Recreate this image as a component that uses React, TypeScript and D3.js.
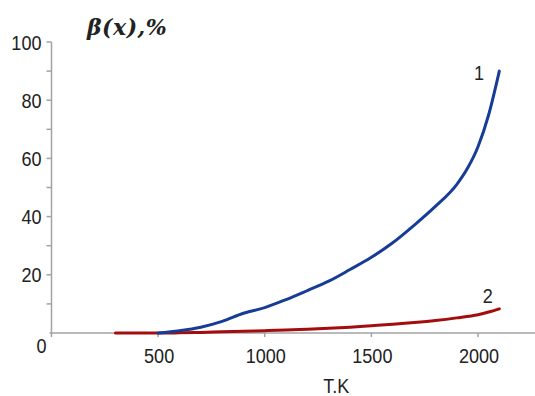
import React from 'react'
import * as d3 from 'd3'

// temperature grid, K
const temps1 = [500, 600, 700, 800, 900, 1000, 1100, 1200, 1300, 1400, 1500, 1600, 1700, 1800, 1900, 1950, 2000, 2050, 2100]
// curve 1, %
const beta1 = [0, 0.8, 2, 4, 6.8, 8.7, 11.5, 14.6, 17.8, 21.8, 26, 31, 37, 43.5, 51, 56.5, 64, 75, 90]

const temps2 = [300, 400, 500, 600, 700, 800, 900, 1000, 1100, 1200, 1300, 1400, 1500, 1600, 1700, 1800, 1900, 2000, 2050, 2100]
// curve 2, %
const beta2 = [0, 0, 0, 0.05, 0.2, 0.4, 0.6, 0.8, 1.0, 1.3, 1.6, 2.0, 2.5, 3.0, 3.6, 4.3, 5.2, 6.3, 7.2, 8.3]

const xTicks = [500, 1000, 1500, 2000]
const yTicks = [20, 40, 60, 80, 100]
const yMinor = [10, 20, 30, 40, 50, 60, 70, 80, 90, 100]

const W = 535
const H = 396

const labelFont = '"Liberation Sans", Arial, sans-serif'

// narrow-looking label (reference uses a condensed sans)
const Label = ({ x, y, anchor = 'middle', children }: { x: number; y: number; anchor?: string; children: React.ReactNode }) => (
  <text
    transform={`translate(${x},${y}) scale(0.86,1)`}
    textAnchor={anchor}
    fontFamily={labelFont}
    fontSize={21}
    fill="#222"
  >
    {children}
  </text>
)

const App = () => {
  const x = d3.scaleLinear().domain([0, 2000]).range([51.5, 478])
  const y = d3.scaleLinear().domain([0, 100]).range([333, 42])

  const line = d3
    .line<[number, number]>()
    .x((d) => x(d[0]))
    .y((d) => y(d[1]))
    .curve(d3.curveMonotoneX)

  const s1 = temps1.map((t, i) => [t, beta1[i]] as [number, number])
  const s2 = temps2.map((t, i) => [t, beta2[i]] as [number, number])

  const axisColor = '#a3a3a3'

  return (
    <svg width={W} height={H} style={{ position: 'absolute', left: 0, top: 0, background: '#fff' }}>
      {/* y axis */}
      <line x1={x(0)} x2={x(0)} y1={y(100)} y2={y(0) + 4} stroke={axisColor} strokeWidth={1.5} />
      {yMinor.map((t) => (
        <line key={t} x1={x(0) - 5} x2={x(0)} y1={y(t)} y2={y(t)} stroke={axisColor} strokeWidth={1.5} />
      ))}
      {yTicks.map((t) => (
        <Label key={t} x={x(0) - 10} y={y(t) + 7.5} anchor="end">
          {t}
        </Label>
      ))}
      <Label x={x(0) - 10} y={y(0) + 20}>
        0
      </Label>

      {/* x axis */}
      <line x1={x(0) - 2} x2={W} y1={y(0)} y2={y(0)} stroke={axisColor} strokeWidth={1.5} />
      {xTicks.map((t) => (
        <g key={t}>
          <line x1={x(t)} x2={x(t)} y1={y(0)} y2={y(0) + 4} stroke={axisColor} strokeWidth={1.5} />
          <Label x={x(t) + 1} y={y(0) + 30}>
            {t}
          </Label>
        </g>
      ))}
      <Label x={x(1335)} y={y(0) + 60}>
        T.K
      </Label>

      {/* title */}
      <text
        x={87}
        y={35}
        fontFamily='"DejaVu Serif", "Liberation Serif", serif'
        fontStyle="italic"
        fontWeight="bold"
        fontSize={22}
        letterSpacing={0.5}
        fill="#222"
      >
        β(x),%
      </text>

      {/* curves */}
      <path d={line(s2) || ''} fill="none" stroke="#a30d0d" strokeWidth={3} strokeLinecap="round" />
      <path d={line(s1) || ''} fill="none" stroke="#173c97" strokeWidth={3} strokeLinecap="round" />

      {/* curve labels */}
      <Label x={x(2070) - 14} y={y(90) + 9}>
        1
      </Label>
      <Label x={x(2050) - 1} y={y(8.3) - 6}>
        2
      </Label>
    </svg>
  )
}

export default App
